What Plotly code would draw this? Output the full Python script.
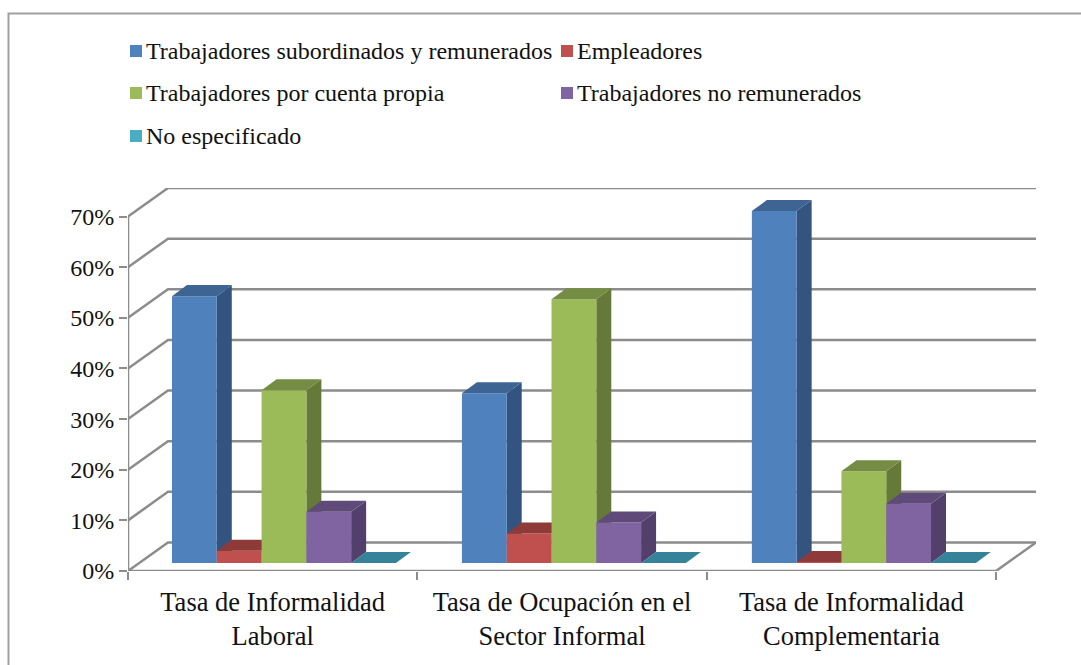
import plotly.graph_objects as go

# Datos
categorias = ["Tasa de Informalidad<br>Laboral", "Tasa de Ocupación en el<br>Sector Informal", "Tasa de Informalidad<br>Complementaria"]
series = ["Trabajadores subordinados y remunerados", "Empleadores", "Trabajadores por cuenta propia", "Trabajadores no remunerados", "No especificado"]
subordinados = [52.7, 33.5, 69.5]
empleadores = [2.4, 5.8, 0.2]
cuenta_propia = [34.1, 52.1, 18.1]
no_remunerados = [10.1, 8.0, 11.7]
no_especificado = [0.0, 0.0, 0.0]
valores = [subordinados, empleadores, cuenta_propia, no_remunerados, no_especificado]
ticks_y = [0, 10, 20, 30, 40, 50, 60, 70]

# Colores: frente, tapa, lateral
colores = [
    ("#4F81BD", "#3D6493", "#32547E"),
    ("#C0504D", "#8E3A38", "#7F3331"),
    ("#9BBB59", "#748C43", "#657A38"),
    ("#8064A2", "#5F4A79", "#523F6B"),
    ("#4BACC6", "#358399", "#2F7488"),
]

GRIS = "#8C8C8C"
SERIF = "Liberation Serif"

# Geometria de la caja 3D en unidades de los ejes
PX_X = 289.4
PX_Y = 5.05
fondo_x = 40 / PX_X
fondo_y = 28.5 / PX_Y
ancho = 44.8 / PX_X
prof_x = 15 / PX_X
prof_y = 11 / PX_Y
base_y = 8 / PX_Y
inicio = (172 - 128) / PX_X - 0.5
paso = 290 / PX_X

fig = go.Figure()


def poligono(xs, ys, color):
    fig.add_trace(go.Scatter(x=xs, y=ys, mode="lines", fill="toself", fillcolor=color,
                             line=dict(width=0, color=color), hoverinfo="skip", showlegend=False))


def linea(xs, ys):
    fig.add_trace(go.Scatter(x=xs, y=ys, mode="lines", line=dict(color=GRIS, width=2.5),
                             hoverinfo="skip", showlegend=False, cliponaxis=False))


# Paredes: cada linea de la cuadricula sube por la pared izquierda y cruza el fondo
for v in ticks_y:
    linea([-0.5, -0.5 + fondo_x, 2.5 + fondo_x], [v, v + fondo_y, v + fondo_y])
linea([-0.5, -0.5], [0, ticks_y[-1]])
linea([-0.5, 2.5, 2.5 + fondo_x], [0, 0, fondo_y])

# Barras de izquierda a derecha para que se tapen bien
for c in range(len(categorias)):
    for s in range(len(series)):
        v = valores[s][c]
        x0 = c * paso + inicio + s * ancho
        x1 = x0 + ancho
        y0 = base_y
        y1 = base_y + v
        frente, tapa, lado = colores[s]
        if v > 0:
            poligono([x1, x1 + prof_x, x1 + prof_x, x1, x1], [y0, y0 + prof_y, y1 + prof_y, y1, y0], lado)
            poligono([x0, x1, x1, x0, x0], [y0, y0, y1, y1, y0], frente)
        poligono([x0, x1, x1 + prof_x, x0 + prof_x, x0], [y1, y1, y1 + prof_y, y1 + prof_y, y1], tapa)

# Leyenda a mano: tiene filas muy separadas que la leyenda normal no permite
ANCHO_PX = 908
ALTO_PX = 383
pos_leyenda = [(130, 51), (561, 51), (130, 93), (561, 93), (130, 136)]
for (px, py), nombre, col in zip(pos_leyenda, series, colores):
    fig.add_shape(type="rect", xref="paper", yref="paper",
                  x0=(px - 128) / ANCHO_PX, x1=(px + 12 - 128) / ANCHO_PX,
                  y0=(571 - py - 6) / ALTO_PX, y1=(571 - py + 6) / ALTO_PX,
                  fillcolor=col[0], line_width=0)
    fig.add_annotation(text=nombre, xref="paper", yref="paper", x=(px + 17 - 128) / ANCHO_PX, y=(571 - py) / ALTO_PX,
                       xanchor="left", yanchor="middle", showarrow=False, xshift=-3,
                       font=dict(family=SERIF, size=24, color="#111111"))

# Marco del grafico: a la derecha y abajo se sale de la pagina
fig.add_shape(type="rect", xref="paper", yref="paper",
              x0=(8.5 - 128) / ANCHO_PX, x1=(1150 - 128) / ANCHO_PX, y0=(571 - 720) / ALTO_PX, y1=(571 - 13.5) / ALTO_PX,
              line=dict(color="#A0A0A0", width=2), layer="below")

fig.update_layout(
    width=1081, height=665, autosize=False,
    margin=dict(l=128, r=45, t=188, b=94),
    paper_bgcolor="white", plot_bgcolor="white",
    showlegend=False,
    font=dict(family=SERIF, color="#111111"),
    xaxis=dict(range=[-0.5, 2.5 + fondo_x], tickvals=[0, 1, 2], ticktext=categorias, ticks="",
               showgrid=False, zeroline=False, showline=False, fixedrange=True,
               tickfont=dict(family=SERIF, size=26.5), ticklabelstandoff=12,
               minor=dict(tickvals=[-0.5, 0.5, 1.5, 2.5], ticks="outside", ticklen=8, tickwidth=2, tickcolor=GRIS, showgrid=False)),
    yaxis=dict(range=[0, 70 + fondo_y], tickvals=ticks_y, ticktext=[f"{v}%" for v in ticks_y], ticks="outside",
               ticklen=8, tickwidth=2, tickcolor=GRIS, showgrid=False, zeroline=False, showline=False, fixedrange=True,
               tickfont=dict(family=SERIF, size=24)),
)

# El body trae 8px de margen por defecto y desplazaria todo
fig.write_html("out.html", config={"displayModeBar": False}, post_script="document.body.style.margin='0';")
